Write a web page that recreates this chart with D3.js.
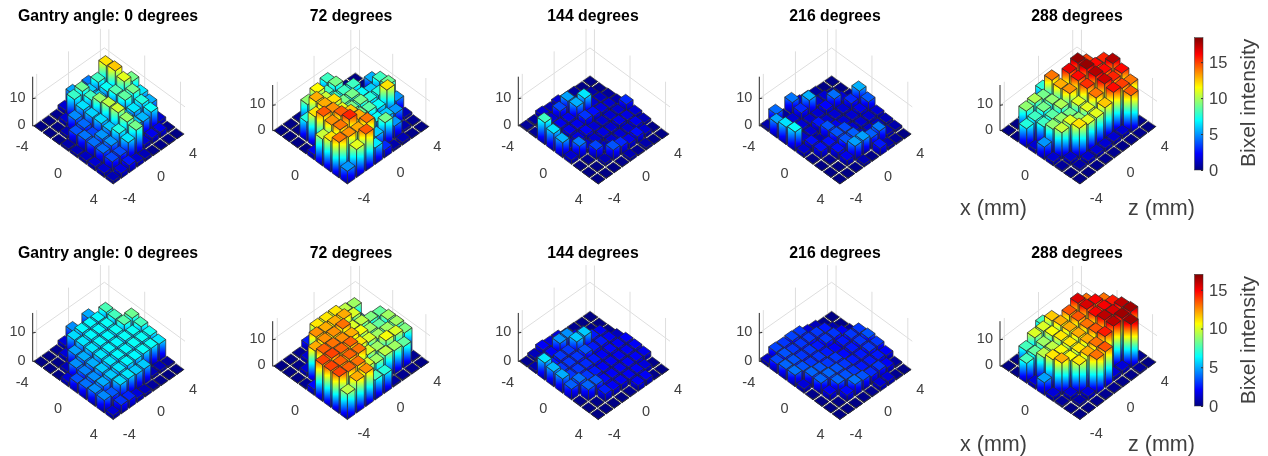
<!DOCTYPE html>
<html><head><meta charset="utf-8">
<style>html,body{margin:0;padding:0;background:#fff}svg{display:block;filter:blur(.35px)}text{font-family:"Liberation Sans",Arial,sans-serif}</style>
<script src="https://cdn.jsdelivr.net/npm/d3@7"></script></head><body>
<svg id="c" width="1268" height="456"></svg>
<script>
// bins along each horizontal axis (rows below: z = 4 down to -4; columns: x = -4 to 4)
const xBins=[-4,-3,-2,-1,0,1,2,3,4];
const zBins=[4,3,2,1,0,-1,-2,-3,-4];
const titles=["Gantry angle: 0 degrees","72 degrees","144 degrees","216 degrees","288 degrees"];
const top0=[
[.1,.3,1,9,6.5,5.5,1.5,.3,.1],
[.3,12,12.5,11,9,7.5,7,2,.2],
[4.5,8,7,8.3,8.6,6.5,5.6,2,.2],
[1,6,6,6,6.5,6,6,1.5,.2],
[5.3,8.8,8,9.5,10.3,10.6,9.6,9,1],
[1.5,7.9,6.4,6.1,6.3,5.9,7.4,6.5,1.5],
[.3,1.5,4.8,4.2,3.5,5,5,3.7,2.7],
[.1,.2,1,3.8,4.4,4.3,4.3,3.6,1.8],
[.1,.1,.1,.8,1,1.2,1.5,1.5,1]];
const top72=[
[.1,.1,5.5,8,8.8,5,1,.3,.1],
[.1,.3,1.5,6,7.5,12,5,.8,.2],
[.5,1.5,8,7,7.5,7,6,5,1],
[8,9,8,9,9,8.5,7,9,.8],
[1,8,8,9,9,9,8.5,6,3],
[2,11.5,10.5,12,11,12.5,13,14,6.5],
[.3,9.5,13,13,13.5,14.5,15.5,13,14.5],
[.1,.2,7.5,12,14.5,13.5,14,13.5,11],
[.1,.1,.1,.1,2,10.5,12,14,5]];
const top144=[
[.1,.1,.5,.8,3,1.5,1,.2,.1],
[.1,.8,1.2,1.5,1.5,1.8,2,1.5,.2],
[.5,1.5,1.5,1.8,1.5,2,1.5,2.5,.8],
[.5,1.5,6.5,2.5,1.5,1.5,1.5,2,.3],
[1.5,5.2,5.5,3.2,1.5,1.8,1.5,3,1],
[1,3.6,2,2,2.2,1.5,1.2,3.8,.2],
[1.5,1.5,2,2,1.8,1.5,3.5,1,.1],
[.5,1,1,1.5,1.5,4.5,.3,.1,.1],
[.5,.4,8,6.4,5.5,1.5,.1,.1,.1]];
const top216=[
[.1,.1,.3,5.5,3.9,1.5,1,.8,.1],
[.1,.5,1.5,3,2,1.5,1.2,1.2,.5],
[.5,1.5,4.3,1.5,1.5,1.5,1.5,4.5,1],
[1,1.5,2.3,1.5,1.5,1.5,1.5,4,2.7],
[1.5,5.5,1.5,1.5,2,3.6,4,5.2,.2],
[4.4,3,1.5,2.7,3.8,3.8,3.8,5.2,1],
[.5,1.5,1.5,1.5,1,2.5,2.5,2,.2],
[4.2,1,1.5,1.5,2.5,2.5,.3,.1,.1],
[.8,5.3,6.4,7,1.5,.2,.1,.1,.1]];
const top288=[
[.1,.1,.5,15.5,17.5,16,14,.2,.1],
[.2,.5,15,16,16,15.5,15,14.5,.3],
[.3,1,18,18,17.5,17,16,1.5,.2],
[.5,3,16.5,16,15.3,14,12.5,1.5,.2],
[7.6,14,13,13.5,11,11,11,1.5,.3],
[1,9,9.5,10,9,9.5,11,1.5,.3],
[.3,10,9,8.5,9.5,11,12,1.5,.2],
[.1,9.5,8,8,9.5,10.5,1.5,.8,.1],
[.1,.1,7.5,1.5,5,1.5,.5,.1,.1]];
const bottom0=[
[.1,.2,.5,8.2,7.5,6.6,6,.5,.1],
[.1,7.6,7.5,7.8,6.5,6.5,6.5,1,.1],
[5,6.3,6.5,6.5,6.5,6.5,6.5,1,.2],
[1,6.3,6.3,6.3,6.3,6.3,6.3,5.5,.5],
[4.5,6.3,6.3,6.3,6.3,6.3,6.3,5.5,1],
[1.5,5.8,6,6,6,6,6,6,1.5],
[.3,1.5,4.8,5,5,5.5,5.5,5.8,2.7],
[.1,.2,1,4.5,4.3,4.5,5,3.6,3],
[.1,.1,.1,1.5,3.5,4,4.5,4.4,1.4]];
const bottom72=[
[.1,.1,.5,8,9,9,8.5,.3,.1],
[.1,9,5,8.5,8,9,10,8,.3],
[.2,9.5,10,9.5,9,9,10.5,9,.3],
[.5,11,12,10,10.5,10,9,9.5,.5],
[3,11,12,13,12,11,10,9,7],
[2.5,11,12,12.5,12.5,13.3,13,10,7.5],
[.3,1.5,12.5,12.5,13,13.3,13.3,13,12.5],
[.1,.2,1.5,12,13.3,13.8,13.3,13.3,12],
[.1,.1,.1,.3,2.2,13.8,13.8,13.8,9.5]];
const bottom144=[
[.1,.1,.2,1,2,2,1.8,.2,.1],
[.1,.3,2,2,2,2,2,1.5,.2],
[.3,1.5,2.5,2.5,2.2,2,2,2,2],
[.3,2,5.5,2.5,2,2,2,2,2],
[1.5,4.5,5.5,3.5,2.5,2,2,2,.3],
[1.5,4.6,3,3,2.8,2.5,2.2,2,.1],
[2,2,3,3,3,3,3.6,2.6,.1],
[1,2,2.5,3,3,4,3.8,.2,.1],
[.3,.8,6,5.2,5,3.7,.2,.1,.1]];
const bottom216=[
[.1,.1,.5,3,3.5,3,2,.5,.1],
[.1,.8,2,3,3,3,2.5,2,.3],
[1,2.5,3,2.5,2.5,2.5,2.5,3,1.5],
[1.5,3,3,2,2.2,2.5,2.5,2.8,1.5],
[3,3,2.5,2.5,3,3,3,3.5,.3],
[3.2,3,3,3,3,3.5,3.5,4,.2],
[3,3,3,3,3.5,3.8,3.8,2.2,.1],
[3.2,3.5,3.5,3.5,3.8,3.8,2,.2,.1],
[1.2,3.3,3.8,4,1.5,.2,.1,.1,.1]];
const bottom288=[
[.1,.1,.5,13,14.5,16,16.5,.3,.1],
[.2,.5,13,15,15,15.5,16.5,16.5,.5],
[.3,1,15.5,15.5,15,16,16,1.5,.2],
[.5,3,13.5,13.5,13,13.5,14.5,1.5,.2],
[7.5,11.5,12,12,12,12,13,13.5,.3],
[1,10,10.5,11,11,11,12,13,.3],
[.3,10,9,9.5,10.5,10.5,11,1.5,.2],
[.1,7.5,8,9.5,11,12,1.5,.8,.1],
[.1,.1,7.5,1.5,4.8,1.5,.5,.1,.1]];
const rows=[[top0,top72,top144,top216,top288],[bottom0,bottom72,bottom144,bottom216,bottom288]];
const axisTicks=[-4,0,4];
const heightTicks=[0,10];
const barTicks=[0,5,10,15];
const colorMax=[18.4,17];
const heightMax=[18,17];

// ---------- layout ----------
const W=.42; // half bar width
const views=[
 {l:[32.7,126],b:[113.3,185],r:[185,134.3],h:49.3,tx:108,all:true},
 {l:[272.7,130.7],b:[347.3,185],r:[430,126.7],h:45.7,tx:351,all:false},
 {l:[518.3,126],b:[598.3,185],r:[670,134.3],h:49.3,tx:593,all:true},
 {l:[759.3,126],b:[840,185],r:[912.3,134.3],h:49.3,tx:835,all:true},
 {l:[1000,130.7],b:[1080,185],r:[1157,126.7],h:45.7,tx:1077,all:false}];
const rowLayout=[{dy:0,titleY:21,h:1,bar:[37.7,170],lab:215},{dy:235.5,titleY:258,h:.985,bar:[274.3,406],lab:451}];
const jetT=[0,.125,.375,.625,.875,1];
const jetC=["#000080","#0000ff","#00ffff","#ffff00","#ff0000","#800000"];
const jet=d3.scaleLinear().domain(jetT).range(jetC).interpolate(d3.interpolateRgb);
const svg=d3.select("#c");
const defs=svg.append("defs");
let gid=0;
const inkTick="#404040";

rows.forEach((panels,ri)=>{
 const R=rowLayout[ri];
 const col=d3.scaleLinear().domain([0,colorMax[ri]]).range([0,1]);
 panels.forEach((H,pi)=>{
  const v=views[pi];
  const g=svg.append("g").attr("transform",`translate(0,${R.dy})`);
  const uX=d3.scaleLinear().domain([-4.5,4.5]).range([v.l[0],v.b[0]]);
  const uY=d3.scaleLinear().domain([-4.5,4.5]).range([v.l[1],v.b[1]]);
  const vX=d3.scaleLinear().domain([-4.5,4.5]).range([0,v.r[0]-v.b[0]]);
  const vY=d3.scaleLinear().domain([-4.5,4.5]).range([0,v.r[1]-v.b[1]]);
  const zS=d3.scaleLinear().domain([0,heightMax[ri]]).range([0,-v.h*R.h]);
  const P=(x,z,h)=>[uX(x)+vX(z),uY(x)+vY(z)+zS(h)];
  const line=pts=>"M"+pts.map(p=>p[0].toFixed(2)+","+p[1].toFixed(2)).join("L");
  const zTop=heightMax[ri];
  // grid on the two back walls
  const grid=g.append("g").attr("fill","none").attr("stroke","#dedede").attr("stroke-width",1);
  axisTicks.forEach(t=>{
    grid.append("path").attr("d",line([P(-4.5,t,0),P(-4.5,t,zTop)]));
    grid.append("path").attr("d",line([P(t,4.5,0),P(t,4.5,zTop)]));
  });
  heightTicks.forEach(t=>{
    grid.append("path").attr("d",line([P(-4.5,-4.5,t),P(-4.5,4.5,t),P(4.5,4.5,t)]));
  });
  // bars, far to near
  const bars=[];
  zBins.forEach((z,i)=>xBins.forEach((x,j)=>bars.push({x,z,h:H[i][j]})));
  bars.sort((a,b)=>(a.x-a.z)-(b.x-b.z));
  const gb=g.append("g").attr("stroke","#2a2a2a").attr("stroke-width",.85).attr("stroke-opacity",.85).attr("stroke-linejoin","round");
  bars.forEach(d=>{
    const x0=d.x-W,x1=d.x+W,z0=d.z-W,z1=d.z+W;
    const id="g"+(gid++);
    const lg=defs.append("linearGradient").attr("id",id).attr("gradientUnits","objectBoundingBox").attr("x1",0).attr("x2",0).attr("y1",1).attr("y2",0);
    const tTop=col(d.h);
    const cuts=[0,...jetT.filter(t=>t>0&&t<tTop),tTop];
    cuts.forEach(t=>lg.append("stop").attr("offset",(tTop?t/tTop:0)).attr("stop-color",jet(t)));
    const fill=`url(#${id})`;
    gb.append("path").attr("fill",fill).attr("d",line([P(x1,z0,0),P(x1,z1,0),P(x1,z1,d.h),P(x1,z0,d.h)])+"Z");
    gb.append("path").attr("fill",fill).attr("d",line([P(x0,z0,0),P(x1,z0,0),P(x1,z0,d.h),P(x0,z0,d.h)])+"Z");
    gb.append("path").attr("fill",jet(tTop)).attr("d",line([P(x0,z0,d.h),P(x1,z0,d.h),P(x1,z1,d.h),P(x0,z1,d.h)])+"Z");
  });
  // height axis
  g.append("path").attr("d",line([P(-4.5,-4.5,0),P(-4.5,-4.5,zTop)])).attr("stroke","#262626").attr("fill","none");
  heightTicks.forEach(t=>{
    const p=P(-4.5,-4.5,t);
    g.append("path").attr("d",line([p,[p[0]+3,p[1]-.5]])).attr("stroke","#262626").attr("fill","none");
    g.append("text").attr("x",p[0]-7).attr("y",p[1]+3).attr("text-anchor","end").attr("font-size",14.5).attr("fill",inkTick).text(t);
  });
  // floor axes
  axisTicks.forEach(t=>{
    if(v.all||t===0){
      const p=P(t,-4.5,0);
      g.append("text").attr("x",p[0]-15).attr("y",p[1]+22).attr("text-anchor","middle").attr("font-size",14.5).attr("fill",inkTick).text(t);
    }
    const q=P(4.5,t,0);
    g.append("text").attr("x",q[0]+12).attr("y",q[1]+21).attr("text-anchor","middle").attr("font-size",14.5).attr("fill",inkTick).text(t);
  });
  // title
  svg.append("text").attr("x",v.tx).attr("y",R.titleY).attr("text-anchor","middle").attr("font-size",15.8).attr("font-weight","bold").attr("fill","#000").text(titles[pi]);
 });
 // colour bar
 const gradId="cb"+ri;
 const cg=defs.append("linearGradient").attr("id",gradId).attr("x1",0).attr("x2",0).attr("y1",1).attr("y2",0);
 jetT.forEach(t=>cg.append("stop").attr("offset",t).attr("stop-color",jet(t)));
 const bs=d3.scaleLinear().domain([0,colorMax[ri]]).range([R.bar[1],R.bar[0]]);
 svg.append("rect").attr("x",1194.5).attr("y",R.bar[0]).attr("width",8.5).attr("height",R.bar[1]-R.bar[0]).attr("fill",`url(#${gradId})`).attr("stroke","#333").attr("stroke-width",.5);
 const ax=svg.append("g").attr("transform","translate(1203,0)").call(d3.axisRight(bs).tickValues(barTicks).tickSize(-2).tickPadding(6));
 ax.select(".domain").remove();
 ax.selectAll("line").attr("stroke","#333");
 ax.selectAll("text").attr("font-size",16.5).attr("fill",inkTick).style("font-family",'"Liberation Sans",Arial,sans-serif');
 svg.append("text").attr("transform",`translate(1255,${(R.bar[0]+R.bar[1])/2+ (ri?0:-1)}) rotate(-90)`).attr("text-anchor","middle").attr("font-size",21).attr("fill",inkTick).text("Bixel intensity");
 svg.append("text").attr("x",960).attr("y",R.lab).attr("font-size",21.5).attr("fill",inkTick).text("x (mm)");
 svg.append("text").attr("x",1128).attr("y",R.lab).attr("font-size",21.5).attr("fill",inkTick).text("z (mm)");
});
</script></body></html>
